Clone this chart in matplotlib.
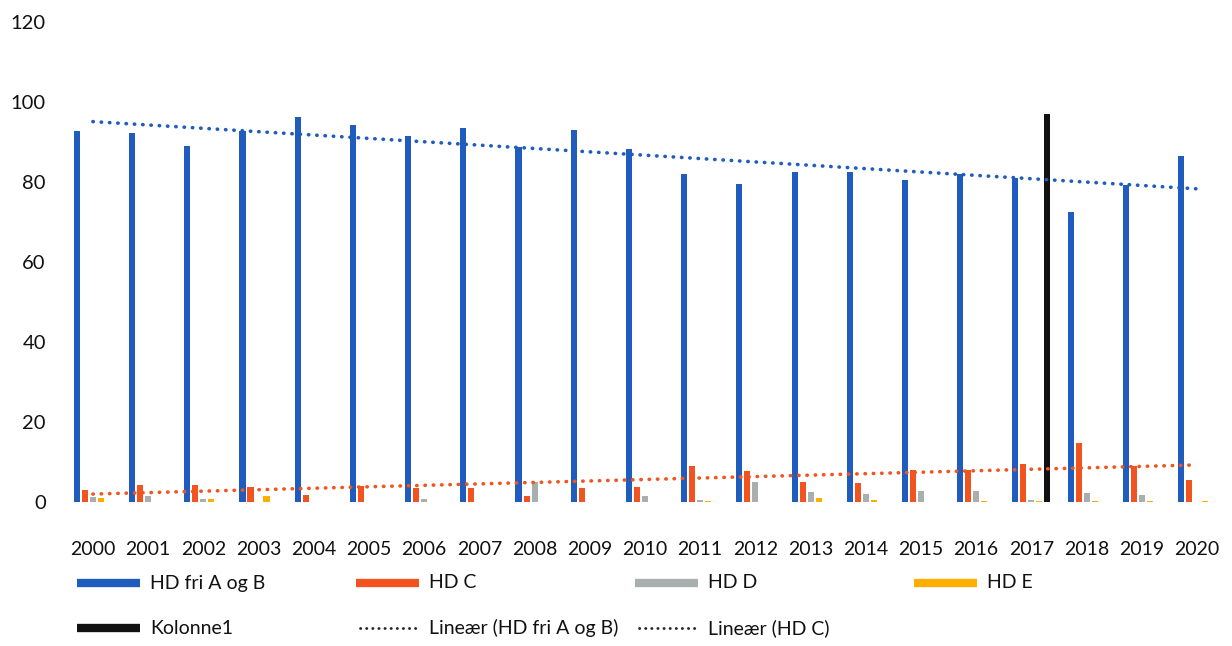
import numpy as np
import matplotlib
matplotlib.use('Agg')
import matplotlib.pyplot as plt
from matplotlib.lines import Line2D

plt.rcParams['font.family'] = ['Lato', 'DejaVu Sans']

# ── data ──
years = [str(y) for y in range(2000, 2021)]
hd_ab = [92.8, 92.2, 89.0, 92.8, 96.2, 94.2, 91.5, 93.5, 88.8, 93.0, 88.2,
         82.0, 79.5, 82.5, 82.5, 80.5, 82.0, 81.0, 72.5, 79.2, 86.5]
hd_c = [3.1, 4.2, 4.2, 3.7, 1.8, 4.1, 3.4, 3.4, 1.4, 3.4, 3.7,
        8.9, 7.7, 4.9, 4.8, 8.1, 8.1, 9.5, 14.8, 9.1, 5.6]
hd_d = [1.2, 1.6, 0.8, 0, 0, 0, 0.8, 0, 4.9, 0, 1.4,
        0.5, 4.9, 2.6, 2.0, 2.8, 2.8, 0.5, 2.2, 1.8, 0]
hd_e = [1.0, 0, 0.8, 1.5, 0, 0, 0, 0, 0, 0, 0,
        0.3, 0, 1.0, 0.5, 0, 0.3, 0.3, 0.3, 0.2, 0.3]
kolonne1 = [0] * 17 + [97.0] + [0] * 3

BLUE = '#1F5CBD'
ORANGE = '#F2541F'
GRAY = '#A9AEAE'
YELLOW = '#FFAF00'
BLACK = '#111111'

fig = plt.figure(figsize=(12.32, 6.46), dpi=100)
ax = fig.add_axes([0.053, 0.223, 0.941, 0.743])

x = np.arange(len(years))
step, w = 0.145, 0.11
series = [(hd_ab, BLUE), (hd_c, ORANGE), (hd_d, GRAY), (hd_e, YELLOW), (kolonne1, BLACK)]
for i, (vals, col) in enumerate(series):
    ax.bar(x + (i - 2) * step, vals, width=w, color=col, zorder=2)

# lineære trendlinjer
for vals, col in [(hd_ab, BLUE), (hd_c, ORANGE)]:
    p = np.polyfit(x, vals, 1)
    ax.plot(x, np.polyval(p, x), color=col, lw=2.6, ls=(0, (0.1, 2.2)),
            dash_capstyle='round', zorder=3)

ax.set_xlim(-0.5, 20.5)
ax.set_ylim(0, 120)
ax.set_yticks(range(0, 121, 20))
ax.set_xticks(x)
ax.set_xticklabels(years)
ax.tick_params(axis='both', length=0, labelsize=14, colors='#111111')
ax.tick_params(axis='x', pad=28)
ax.tick_params(axis='y', labelsize=14.5, pad=14)
for s in ax.spines.values():
    s.set_visible(False)

# ── legend, Excel-style fixed columns ──
W, H = 1232, 646
def fx(px): return px / W
def fy(py): return 1 - py / H

leg_rows = [
    [('HD fri A og B', BLUE, 'bar'), ('HD C', ORANGE, 'bar'),
     ('HD D', GRAY, 'bar'), ('HD E', YELLOW, 'bar')],
    [('Kolonne1', BLACK, 'bar'), ('Lineær (HD fri A og B)', '#222222', 'dot'),
     ('Lineær (HD C)', '#222222', 'dot')],
]
col_x = [77, 356, 635, 914]
row_y = [583, 628]
for r, row in enumerate(leg_rows):
    for c, (lab, col, kind) in enumerate(row):
        x0 = col_x[c]
        y0 = fy(row_y[r])
        if kind == 'bar':
            fig.add_artist(Line2D([fx(x0), fx(x0 + 63)], [y0, y0], color=col,
                                  lw=6, solid_capstyle='butt'))
        else:
            fig.add_artist(Line2D([fx(x0 + 4), fx(x0 + 60)], [y0, y0], color=col,
                                  lw=2.0, ls=(0, (0.1, 2.1)), dash_capstyle='round'))
        fig.text(fx(x0 + 73), y0, lab, fontsize=14, va='center', ha='left',
                 color='#111111')

fig.savefig('out.png', dpi=100, facecolor='white')
